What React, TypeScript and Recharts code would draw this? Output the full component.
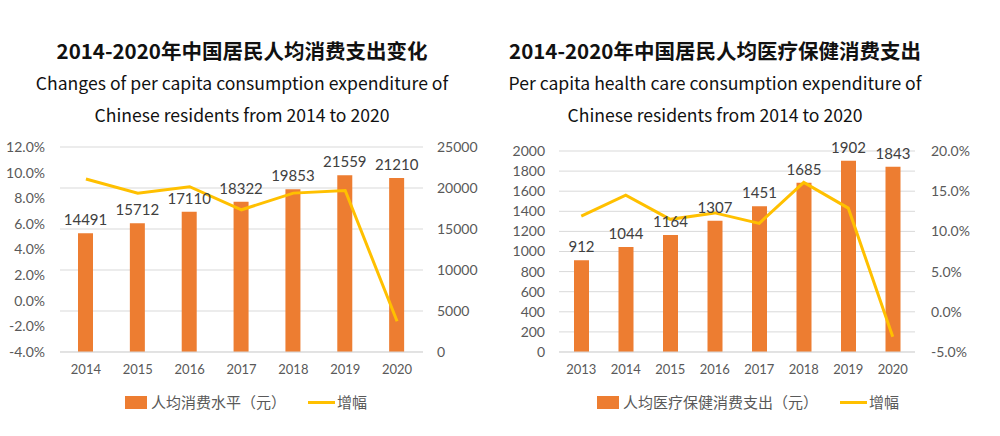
import React from "react";
import {
  Bar,
  CartesianGrid,
  ComposedChart,
  LabelList,
  Line,
  XAxis,
  YAxis
} from "recharts";

const years1 = ["2014", "2015", "2016", "2017", "2018", "2019", "2020"];
const spend1 = [14491, 15712, 17110, 18322, 19853, 21559, 21210];
const growth1 = [9.5, 8.4, 8.9, 7.1, 8.4, 8.6, -1.6];
const pctTicks1 = [-4, -2, 0, 2, 4, 6, 8, 10, 12];
const valTicks1 = [0, 5000, 10000, 15000, 20000, 25000];

const years2 = ["2013", "2014", "2015", "2016", "2017", "2018", "2019", "2020"];
const health2 = [912, 1044, 1164, 1307, 1451, 1685, 1902, 1843];
const growth2 = [11.9, 14.5, 11.5, 12.3, 11.0, 16.1, 12.9, -3.1];
const valTicks2 = [0, 200, 400, 600, 800, 1000, 1200, 1400, 1600, 1800, 2000];
const pctTicks2 = [-5, 0, 5, 10, 15, 20];

const data1 = years1.map((y, i) => ({ year: y, value: spend1[i], growth: growth1[i] }));
const data2 = years2.map((y, i) => ({ year: y, value: health2[i], growth: growth2[i] }));

const ORANGE = "#ED7D31";
const YELLOW = "#FFC000";
const GRID = "#d9d9d9";
const TICK = { fontSize: 14, fill: "#595959", fontFamily: "Lato" };
const XTICK = { fontSize: 13, fill: "#595959", fontFamily: "Lato" };
const CJK = "'Noto Sans CJK SC', sans-serif";

const pct = (v: number) => v.toFixed(1) + "%";

function Title({ cx, zh, en1, en2 }: { cx: number; zh: string; en1: string; en2: string }) {
  const line = (top: number, size: number, weight: number, text: string) => (
    <div
      style={{
        position: "absolute",
        left: cx - 300,
        width: 600,
        top,
        textAlign: "center",
        fontFamily: CJK,
        fontSize: size,
        fontWeight: weight,
        color: "#111",
        lineHeight: "24px",
        whiteSpace: "nowrap"
      }}
    >
      {text}
    </div>
  );
  return (
    <>
      {line(38, 20.5, 700, zh)}
      {line(71, 17.6, 400, en1)}
      {line(103, 17.6, 400, en2)}
    </>
  );
}

function Legend({ x, label }: { x: number; label: string }) {
  return (
    <div
      style={{
        position: "absolute",
        left: x,
        top: 392,
        display: "flex",
        alignItems: "center",
        fontFamily: CJK,
        fontSize: 15,
        color: "#595959",
        whiteSpace: "nowrap",
        lineHeight: "20px"
      }}
    >
      <span style={{ width: 22, height: 13, background: ORANGE, display: "inline-block", marginRight: 4 }} />
      <span>{label}</span>
      <span style={{ width: 27, height: 3, background: YELLOW, display: "inline-block", marginLeft: 22, marginRight: 2 }} />
      <span>增幅</span>
    </div>
  );
}

export default function App() {
  return (
    <div style={{ position: "absolute", left: 0, top: 0, width: 1000, height: 436, background: "#fff" }}>
      <Title
        cx={242}
        zh="2014-2020年中国居民人均消费支出变化"
        en1="Changes of per capita consumption expenditure of"
        en2="Chinese residents from 2014 to 2020"
      />
      <Title
        cx={715}
        zh="2014-2020年中国居民人均医疗保健消费支出"
        en1="Per capita health care consumption expenditure of"
        en2="Chinese residents from 2014 to 2020"
      />

      <div style={{ position: "absolute", left: 0, top: 0 }}>
        <ComposedChart width={480} height={436} data={data1} margin={{ top: 147, right: 0, bottom: 54, left: 0 }}>
          <CartesianGrid yAxisId="val" vertical={false} stroke={GRID} />
          <XAxis dataKey="year" height={30} tick={XTICK} tickLine={false} axisLine={{ stroke: GRID }} tickSize={0} tickMargin={13} />
          <YAxis yAxisId="pct" orientation="left" width={60} domain={[-4, 12]} ticks={pctTicks1} tickFormatter={pct}
            tick={TICK} axisLine={false} tickLine={false} tickSize={0} tickMargin={15} interval={0} />
          <YAxis yAxisId="val" orientation="right" width={57} domain={[0, 25000]} ticks={valTicks1}
            tick={TICK} axisLine={false} tickLine={false} tickSize={0} tickMargin={14} interval={0} />
          <Bar yAxisId="val" dataKey="value" fill={ORANGE} barSize={15} isAnimationActive={false}>
            <LabelList dataKey="value" position="top" offset={8} style={{ fontSize: 15, fill: "#404040", fontFamily: "Lato" }} />
          </Bar>
          <Line yAxisId="pct" dataKey="growth" stroke={YELLOW} strokeWidth={3} dot={false} type="linear" isAnimationActive={false} />
        </ComposedChart>
      </div>

      <div style={{ position: "absolute", left: 480, top: 0 }}>
        <ComposedChart width={520} height={436} data={data2} margin={{ top: 151, right: 0, bottom: 54, left: 0 }}>
          <CartesianGrid yAxisId="val" vertical={false} stroke={GRID} />
          <XAxis dataKey="year" height={30} tick={XTICK} tickLine={false} axisLine={{ stroke: GRID }} tickSize={0} tickMargin={13} />
          <YAxis yAxisId="val" orientation="left" width={79} domain={[0, 2000]} ticks={valTicks2}
            tick={TICK} axisLine={false} tickLine={false} tickSize={0} tickMargin={14} interval={0} />
          <YAxis yAxisId="pct" orientation="right" width={85} domain={[-5, 20]} ticks={pctTicks2} tickFormatter={pct}
            tick={TICK} axisLine={false} tickLine={false} tickSize={0} tickMargin={16} interval={0} />
          <Bar yAxisId="val" dataKey="value" fill={ORANGE} barSize={15} isAnimationActive={false}>
            <LabelList dataKey="value" position="top" offset={8} style={{ fontSize: 15, fill: "#404040", fontFamily: "Lato" }} />
          </Bar>
          <Line yAxisId="pct" dataKey="growth" stroke={YELLOW} strokeWidth={3} dot={false} type="linear" isAnimationActive={false} />
        </ComposedChart>
      </div>

      <Legend x={125} label="人均消费水平（元）" />
      <Legend x={597} label="人均医疗保健消费支出（元）" />
    </div>
  );
}
